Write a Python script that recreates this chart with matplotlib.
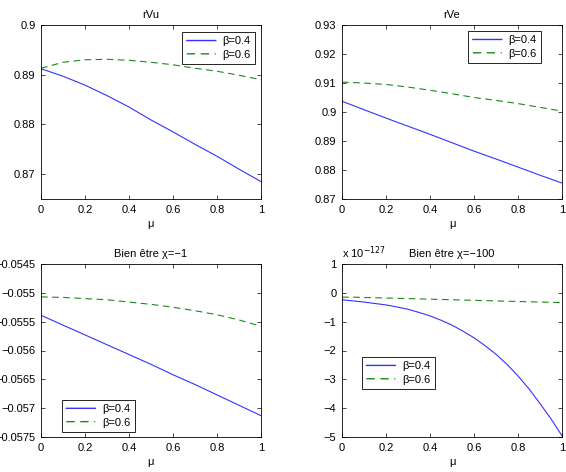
import matplotlib
matplotlib.use("Agg")
import matplotlib.pyplot as plt

plt.rcParams['font.family'] = ['Liberation Sans', 'DejaVu Sans']
plt.rcParams['font.size'] = 8

mu = [0.0, 0.1, 0.2, 0.3, 0.4, 0.5, 0.6, 0.7, 0.8, 0.9, 1.0]

# rVu
rvu_b04 = [0.8912, 0.8897, 0.8879, 0.8858, 0.8835, 0.8809, 0.8785, 0.8760, 0.8736, 0.8710, 0.8685]
rvu_b06 = [0.8913, 0.8925, 0.8930, 0.8931, 0.8929, 0.8925, 0.8920, 0.8913, 0.8907, 0.8899, 0.8890]

# rVe
rve_b04 = [0.9037, 0.9008, 0.8979, 0.8951, 0.8923, 0.8894, 0.8865, 0.8838, 0.8810, 0.8782, 0.8755]
rve_b06 = [0.9103, 0.9100, 0.9095, 0.9086, 0.9075, 0.9063, 0.9050, 0.9040, 0.9029, 0.9016, 0.9003]

# Bien etre chi=-1
be1_b04 = [-0.05539, -0.05556, -0.05573, -0.05590, -0.05607, -0.05624, -0.05642, -0.05659,
           -0.05677, -0.05695, -0.05713]
be1_b06 = [-0.05507, -0.05508, -0.05510, -0.05512, -0.05516, -0.05520, -0.05525, -0.05531,
           -0.05538, -0.05547, -0.05558]

# Bien etre chi=-100 (units of 1e-127)
mu_fine = [0.0, 0.05, 0.1, 0.15, 0.2, 0.25, 0.3, 0.35, 0.4, 0.45, 0.5, 0.55, 0.6, 0.65, 0.7,
           0.75, 0.8, 0.85, 0.9, 0.95, 1.0]
be100_b04 = [-0.24, -0.28, -0.32, -0.37, -0.42, -0.49, -0.57, -0.68, -0.80, -0.95, -1.12,
             -1.33, -1.56, -1.83, -2.13, -2.48, -2.88, -3.33, -3.84, -4.37, -4.96]
be100_b06 = [-0.15, -0.15, -0.16, -0.17, -0.18, -0.19, -0.20, -0.21, -0.22, -0.23, -0.24,
             -0.25, -0.26, -0.27, -0.28, -0.29, -0.30, -0.31, -0.32, -0.33, -0.34]

labels = ['\u03b2=0.4', '\u03b2=0.6']
xticks = [0, 0.2, 0.4, 0.6, 0.8, 1.0]
xticklabels = ['0', '0.2', '0.4', '0.6', '0.8', '1']

BLUE = '#3333ff'
GREEN = '#1a8a1a'
COLORS = [BLUE, GREEN]
DASH = (0, (6, 4))

W, H = 566, 472
fig = plt.figure(figsize=(W / 100, H / 100), dpi=100)


def make_ax(l, t, r, b):
    return fig.add_axes([l / W, 1 - b / H, (r - l) / W, (b - t) / H])


def fmt(v):
    s = ('%.4f' % v).rstrip('0').rstrip('.')
    if s in ('-0', '0'):
        s = '0'
    return s.replace('-', '\u2212')


def style(ax, yticks, ylim, title):
    ax.set_xlim(0, 1)
    ax.set_ylim(*ylim)
    ax.set_xticks(xticks)
    ax.set_xticklabels(xticklabels)
    ax.set_yticks(yticks)
    ax.set_yticklabels([fmt(v) for v in yticks])
    ax.tick_params(direction='in', top=True, right=True, length=3, width=0.5, pad=4,
                   labelsize=8)
    for sp in ax.spines.values():
        sp.set_linewidth(0.6)
    ax.set_xlabel('\u03bc', fontsize=8, labelpad=3)
    ax.set_title(title, fontsize=8, pad=5)


def draw(ax, x, y1, y2):
    l1, = ax.plot(x, y1, color=BLUE, lw=0.8, label=labels[0])
    l2, = ax.plot(x, y2, color=GREEN, lw=0.8, ls=DASH, label=labels[1])
    return [l1, l2]


def legend(ax, handles, loc, anchor):
    lg = ax.legend(handles=handles, loc=loc, bbox_to_anchor=anchor, borderaxespad=0,
                   fancybox=False, framealpha=1, edgecolor='black', fontsize=8,
                   handlelength=2.6, handletextpad=0.6, borderpad=0.4, labelspacing=0.3)
    lg.get_frame().set_linewidth(0.6)
    for ln, c in zip(lg.get_lines(), COLORS):
        ln.set_color(c)
        ln.set_linewidth(1.0)
        ln.set_snap(False)


ax1 = make_ax(41, 25, 261, 199)
h = draw(ax1, mu, rvu_b04, rvu_b06)
style(ax1, [0.87, 0.88, 0.89, 0.9], (0.865, 0.9), 'rVu')
legend(ax1, h, 'upper right', (0.973, 0.96))

ax2 = make_ax(342, 25, 562, 199)
h = draw(ax2, mu, rve_b04, rve_b06)
style(ax2, [0.87, 0.88, 0.89, 0.9, 0.91, 0.92, 0.93], (0.87, 0.93), 'rVe')
legend(ax2, h, 'upper right', (0.905, 0.966))

ax3 = make_ax(41, 264, 261, 437)
h = draw(ax3, mu, be1_b04, be1_b06)
style(ax3, [-0.0575, -0.057, -0.0565, -0.056, -0.0555, -0.055, -0.0545],
      (-0.0575, -0.0545), 'Bien \u00eatre \u03c7=\u22121')
legend(ax3, h, 'lower left', (0.095, 0.029))

ax4 = make_ax(342, 264, 562, 437)
h = draw(ax4, mu_fine, be100_b04, be100_b06)
style(ax4, [-5, -4, -3, -2, -1, 0, 1], (-5, 1), 'Bien \u00eatre \u03c7=\u2212100')
legend(ax4, h, 'lower left', (0.091, 0.277))
ax4.text(0.0, 1.015, 'x 10$^{\u2212127}$', transform=ax4.transAxes, fontsize=8,
         ha='left', va='bottom')

fig.savefig('out.png', dpi=100)
